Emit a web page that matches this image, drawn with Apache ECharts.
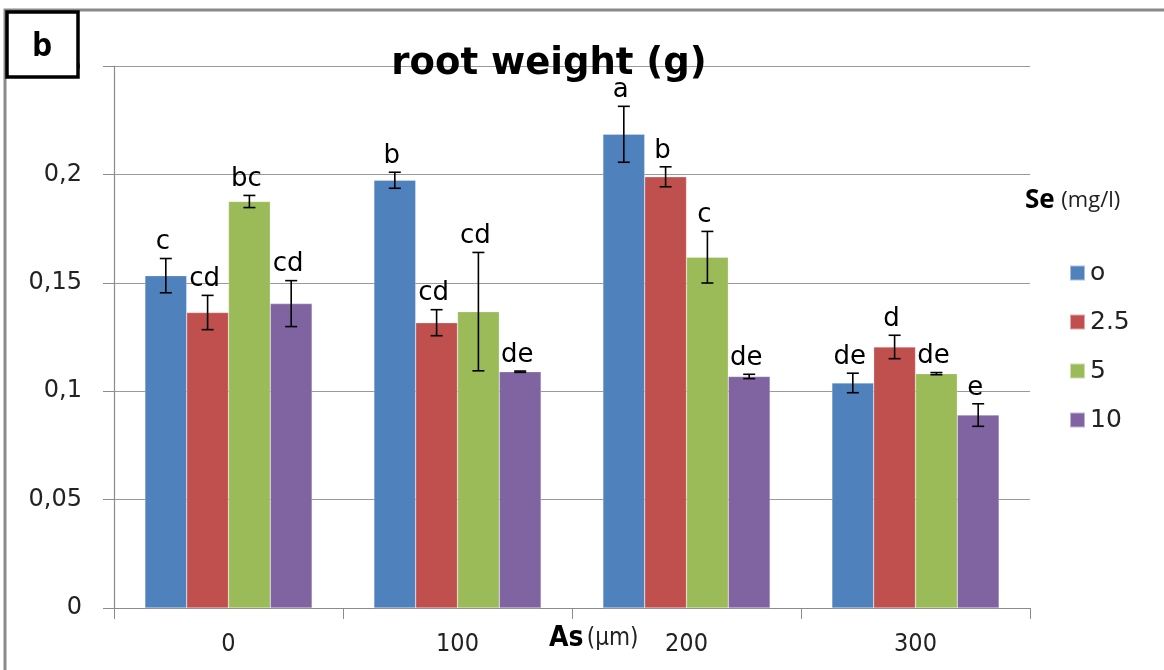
<!DOCTYPE html>
<html>
<head>
<meta charset="utf-8">
<script src="https://cdn.jsdelivr.net/npm/echarts@6/dist/echarts.min.js"></script>
<style>
  html, body { margin: 0; padding: 0; background: #fff; }
  #chart { width: 1164px; height: 670px; }
</style>
</head>
<body>
<div id="chart"></div>
<script>
// As dose groups (µm) on the x axis
const categories = ['0', '100', '200', '300'];
// Se levels (mg/l), one bar series each
const seriesNames = ['o', '2.5', '5', '10'];
// Mean root weight (g)
const seriesValues = [
  [0.1533, 0.1973, 0.2185, 0.1038],
  [0.1363, 0.1316, 0.1989, 0.1204],
  [0.1875, 0.1367, 0.1618, 0.1081],
  [0.1404, 0.1090, 0.1068, 0.0890]
];
// Error half-widths
const seriesErrors = [
  [0.0079, 0.0037, 0.0129, 0.0045],
  [0.0079, 0.0060, 0.0046, 0.0054],
  [0.0028, 0.0273, 0.0119, 0.0005],
  [0.0106, 0.0003, 0.0010, 0.0052]
];
// Significance letters above each bar
const seriesLetters = [
  ['c', 'b', 'a', 'de'],
  ['cd', 'cd', 'b', 'd'],
  ['bc', 'cd', 'c', 'de'],
  ['cd', 'de', 'de', 'e']
];
// Y axis ticks
const yTicks = [0, 0.05, 0.1, 0.15, 0.2, 0.25];
const colors = ['#4F81BD', '#C0504D', '#9BBB59', '#8064A2'];

const CAT_GAP = 0.27;
const NARROW = '"Liberation Sans Narrow", "DejaVu Sans Condensed", "Liberation Sans", sans-serif';

function errorRenderer(si) {
  return function (params, api) {
    const cat = api.value(0);
    const v = api.value(1);
    const e = api.value(2);
    const base = api.coord([cat, 0]);
    const band = api.size([1, 0])[0];
    const bw = band * (1 - CAT_GAP) / seriesNames.length;
    const x = base[0] + (si - (seriesNames.length - 1) / 2) * bw;
    const yTop = api.coord([cat, v + e])[1];
    const yBot = api.coord([cat, v - e])[1];
    const cap = 6;
    const st = { stroke: '#000', lineWidth: 1.6 };
    return {
      type: 'group',
      children: [
        { type: 'line', shape: { x1: x, y1: yTop, x2: x, y2: yBot }, style: st },
        { type: 'line', shape: { x1: x - cap, y1: yTop, x2: x + cap, y2: yTop }, style: st },
        { type: 'line', shape: { x1: x - cap, y1: yBot, x2: x + cap, y2: yBot }, style: st },
        {
          type: 'text',
          x: x - 3, y: yTop - 3,
          style: {
            text: seriesLetters[si][params.dataIndex],
            fill: '#000',
            font: '26px "DejaVu Sans", sans-serif',
            textAlign: 'center',
            textVerticalAlign: 'bottom'
          }
        }
      ]
    };
  };
}

const barSeries = seriesNames.map((name, si) => ({
  name: name,
  type: 'bar',
  data: seriesValues[si],
  barGap: '0%',
  barCategoryGap: (CAT_GAP * 100) + '%',
  itemStyle: { color: colors[si], borderColor: 'rgba(255,255,255,0.5)', borderWidth: 0.5 },
  z: 2
}));

const errSeries = seriesNames.map((name, si) => ({
  type: 'custom',
  renderItem: errorRenderer(si),
  data: seriesValues[si].map((v, i) => [i, v, seriesErrors[si][i]]),
  z: 5,
  silent: true
}));

const chart = echarts.init(document.getElementById('chart'), null, { renderer: 'canvas' });
chart.setOption({
  animation: false,
  backgroundColor: '#fff',
  grid: { left: 114, right: 134, top: 66, bottom: 62 },
  legend: {
    data: seriesNames,
    orient: 'vertical',
    left: 1064,
    top: 255,
    itemWidth: 15,
    itemHeight: 15,
    itemGap: 23,
    icon: 'rect',
    textStyle: { fontSize: 25, fontFamily: '"DejaVu Sans", sans-serif', color: '#222', lineHeight: 26 }
  },
  xAxis: {
    type: 'category',
    data: categories,
    axisLine: { lineStyle: { color: '#8c8c8c', width: 1.2 } },
    axisTick: { show: true, length: 11, interval: 0, lineStyle: { color: '#8c8c8c' } },
    axisLabel: {
      margin: 24,
      fontSize: 25,
      color: '#222',
      fontFamily: NARROW
    }
  },
  yAxis: {
    type: 'value',
    min: yTicks[0],
    max: yTicks[yTicks.length - 1],
    interval: 0.05,
    axisLine: { show: true, lineStyle: { color: '#8c8c8c', width: 1.2 } },
    axisTick: { show: true, length: 11, lineStyle: { color: '#8c8c8c' } },
    splitLine: { lineStyle: { color: '#9a9a9a', width: 1.2 } },
    axisLabel: {
      margin: 32,
      fontSize: 24,
      color: '#222',
      fontFamily: '"DejaVu Sans", sans-serif',
      formatter: function (v) {
        return yTicks.indexOf(Math.round(v * 100) / 100) >= 0 ? String(Math.round(v * 100) / 100).replace('.', ',') : '';
      }
    }
  },
  series: barSeries.concat(errSeries),
  graphic: [
    {
      type: 'rect',
      shape: { x: 5, y: 10, width: 1200, height: 700 },
      style: { fill: 'none', stroke: '#8a8a8a', lineWidth: 3 },
      z: 100
    },
    {
      type: 'rect',
      shape: { x: 7, y: 12, width: 71, height: 65 },
      style: { fill: '#fff', stroke: '#000', lineWidth: 3.5 },
      z: 101
    },
    {
      type: 'text',
      x: 42, y: 47,
      style: {
        text: 'b',
        font: 'bold 32px "Open Sans", sans-serif',
        fill: '#000',
        textAlign: 'center',
        textVerticalAlign: 'middle'
      },
      z: 102
    },
    {
      type: 'text',
      x: 549, y: 64,
      style: {
        text: 'root weight (g)',
        font: 'bold 37px "DejaVu Sans", sans-serif',
        fill: '#000',
        textAlign: 'center',
        textVerticalAlign: 'middle'
      },
      z: 102
    },
    {
      type: 'text',
      x: 1025, y: 201,
      style: {
        text: '{b|Se}  {s|(mg/l)}',
        rich: {
          b: { fontSize: 26, fontWeight: 'bold', fontFamily: '"Open Sans", sans-serif', fill: '#000' },
          s: { fontSize: 22, fontFamily: '"Open Sans", sans-serif', fill: '#222' }
        },
        textVerticalAlign: 'middle'
      },
      z: 102
    },
    {
      type: 'text',
      x: 549, y: 639,
      style: {
        text: '{b|As} {s|(µm)}',
        rich: {
          b: { fontSize: 28, fontWeight: 'bold', fontFamily: NARROW, fill: '#000' },
          s: { fontSize: 24, fontFamily: NARROW, fill: '#222' }
        },
        textVerticalAlign: 'middle'
      },
      z: 102
    }
  ]
});
</script>
</body>
</html>
